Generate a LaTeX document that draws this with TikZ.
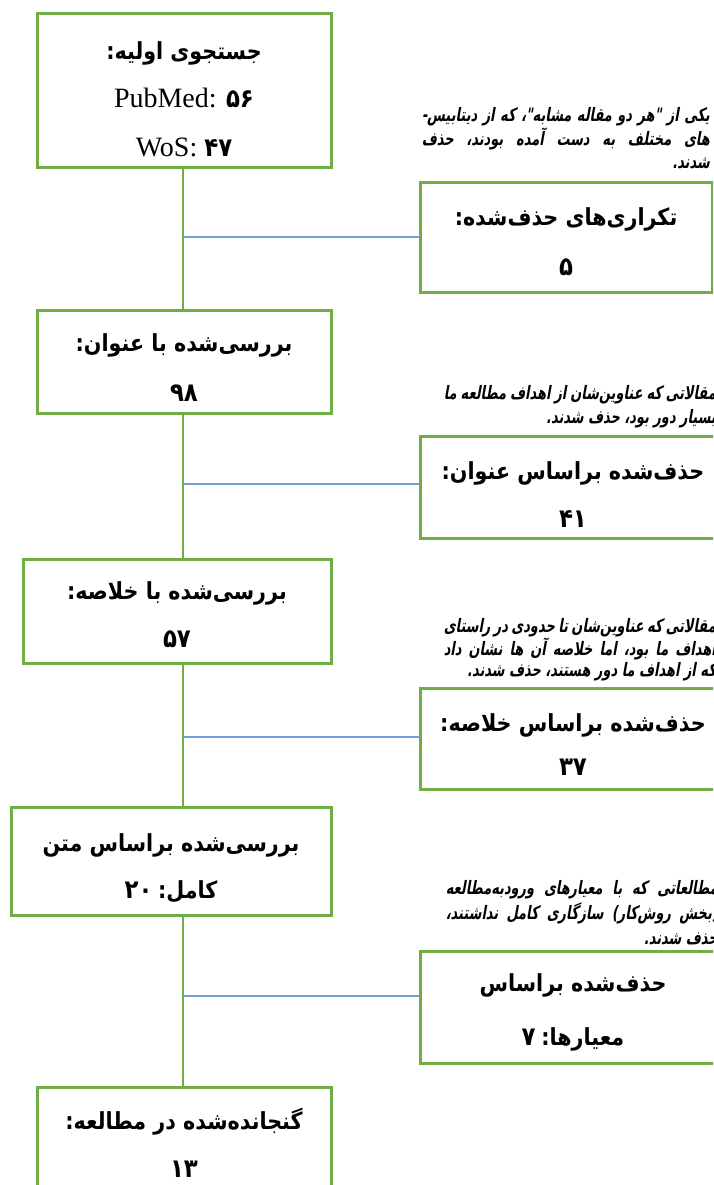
\documentclass[tikz,border=0pt]{standalone}
\usepackage{fontspec}
\TeXXeTstate=1
\newfontfamily\fafont[Script=Arabic,FakeStretch=0.88]{DejaVu Sans}
\newfontfamily\notefont[Script=Arabic,FakeSlant=0.18,FakeStretch=0.7]{DejaVu Sans}
\setmainfont{Liberation Serif}
\newcommand\rtl[1]{\beginR #1\endR}
\newcommand\num[1]{{\fontsize{26}{30}\selectfont #1}}
\newlength\notew
\newcommand\nline[1]{\hbox to \notew{\beginR #1\endR}}
\newcommand\nlast[1]{\hbox to \notew{\hfill\beginR #1\endR}}
\definecolor{boxgreen}{HTML}{70AD47}
\definecolor{linkblue}{HTML}{6FA0DC}
\tikzset{
  x=1pt, y=-1pt,
  flowbox/.style={draw=boxgreen, line width=3pt, fill=white, inner sep=0pt},
  boxtext/.style={align=center, inner sep=0pt,
     font={\fafont\bfseries\fontsize{23.5}{50}\selectfont}},
  mainlink/.style={draw=boxgreen, line width=1.5pt},
  sidelink/.style={draw=linkblue, line width=1.4pt},
  notetext/.style={anchor=base east, inner sep=0pt, align=right,
     font={\notefont\bfseries\fontsize{18.5}{23}\selectfont}},
}
\begin{document}
\begin{tikzpicture}
\useasboundingbox (0,0) rectangle (713,1185);
\clip (0,0) rectangle (713,1185);
% left column boxes
\node[flowbox, minimum width=294pt, minimum height=154pt,
  label={[boxtext, font={\fafont\bfseries\fontsize{23.5}{48.5}\selectfont}, yshift=-8pt]center:{\rtl{جستجوی اولیه:}\\
   {\rmfamily\mdseries\fontsize{28}{30}\selectfont PubMed: }\num{۵۶}\\
   {\rmfamily\mdseries\fontsize{28}{30}\selectfont WoS: }\num{۴۷}}}] (b1) at (184,91) {};
\node[flowbox, minimum width=294pt, minimum height=103pt,
  label={[boxtext, yshift=-6.5pt]center:{\rtl{بررسی‌شده با عنوان:}\\ \num{۹۸}}}] (b3) at (184,361.5) {};
\node[flowbox, minimum width=308pt, minimum height=104pt,
  label={[boxtext, font={\fafont\bfseries\fontsize{23.5}{48}\selectfont}, yshift=-3.5pt]center:{\rtl{بررسی‌شده با خلاصه:}\\ \num{۵۷}}}] (b5) at (177,611) {};
\node[flowbox, minimum width=320pt, minimum height=108pt,
  label={[boxtext, font={\fafont\bfseries\fontsize{23.5}{47}\selectfont}, yshift=-7.5pt]center:{\rtl{بررسی‌شده براساس متن}\\ \rtl{کامل:\hspace{-4pt} \beginL\num{۲۰}\endL}}}] (b7) at (171,861) {};
\node[flowbox, minimum width=294pt, minimum height=113pt,
  label={[boxtext, font={\fafont\bfseries\fontsize{23.5}{48}\selectfont}, yshift=0.5pt]center:{\rtl{گنجانده‌شده در مطالعه:}\\ \num{۱۳}}}] (b9) at (184,1143.5) {};
% right column boxes
\node[flowbox, minimum width=292pt, minimum height=109pt,
  label={[boxtext, yshift=-4.5pt]center:{\rtl{تکراری‌های حذف‌شده:}\\ \num{۵}}}] (b2) at (566,237.5) {};
\node[flowbox, minimum width=306pt, minimum height=102pt,
  label={[boxtext, font={\fafont\bfseries\fontsize{23.5}{48}\selectfont}, yshift=-7.5pt]center:{\rtl{حذف‌شده براساس عنوان:}\\ \num{۴۱}}}] (b4) at (573,487) {};
\node[flowbox, minimum width=306pt, minimum height=101pt,
  label={[boxtext, font={\fafont\bfseries\fontsize{23.5}{44}\selectfont}, yshift=-6.5pt]center:{\rtl{حذف‌شده براساس خلاصه:}\\ \num{۳۷}}}] (b6) at (573,738.5) {};
\node[flowbox, minimum width=306pt, minimum height=112pt,
  label={[boxtext, font={\fafont\bfseries\fontsize{23.5}{54}\selectfont}, yshift=-5.5pt]center:{\rtl{حذف‌شده براساس}\\ \rtl{معیارها:\hspace{-4pt} \beginL\num{۷}\endL}}}] (b8) at (573,1007) {};
% main flow
\draw[mainlink] (b1.south -| 183,0) -- (b3.north -| 183,0);
\draw[mainlink] (b3.south -| 183,0) -- (b5.north -| 183,0);
\draw[mainlink] (b5.south -| 183,0) -- (b7.north -| 183,0);
\draw[mainlink] (b7.south -| 183,0) -- (b9.north -| 183,0);
% side links
\coordinate (j1) at (183,237);
\coordinate (j2) at (183,484);
\coordinate (j3) at (183,737);
\coordinate (j4) at (183,996);
\draw[sidelink] (j1) -- (j1 -| b2.west);
\draw[sidelink] (j2) -- (j2 -| b4.west);
\draw[sidelink] (j3) -- (j3 -| b6.west);
\draw[sidelink] (j4) -- (j4 -| b8.west);
% notes
\setlength\notew{288pt}
\node[notetext] (n1) at (710,122) {\vtop{\baselineskip=23.5pt
  \nline{یکی از "هر دو مقاله مشابه"، که از دیتابیس-}
  \nline{های مختلف به دست آمده بودند، حذف}
  \nlast{شدند.}}};
\setlength\notew{272pt}
\node[notetext] (n2) at (716,399) {\vtop{\baselineskip=24pt
  \nline{مقالاتی که عناوین‌شان از اهداف مطالعه ما}
  \nlast{بسیار دور بود، حذف شدند.}}};
\setlength\notew{272pt}
\node[notetext] (n3) at (716,632) {\vtop{\baselineskip=21.5pt
  \nline{مقالاتی که عناوین‌شان تا حدودی در راستای}
  \nline{اهداف ما بود، اما خلاصه آن ها نشان داد}
  \nlast{که از اهداف ما دور هستند، حذف شدند.}}};
\setlength\notew{272pt}
\node[notetext] (n4) at (718,894) {\vtop{\baselineskip=25pt
  \nline{مطالعاتی که با معیارهای ورودبه‌مطالعه}
  \nline{(بخش روش‌کار) سازگاری کامل نداشتند،}
  \nlast{حذف شدند.}}};
\end{tikzpicture}
\end{document}
